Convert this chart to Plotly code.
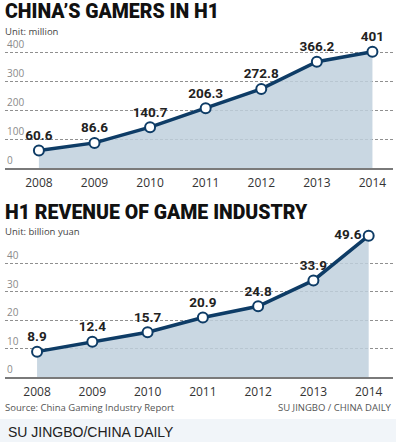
import plotly.graph_objects as go

years = [2008, 2009, 2010, 2011, 2012, 2013, 2014]
gamers = [60.6, 86.6, 140.7, 206.3, 272.8, 366.2, 401]
gamer_labels = ["60.6", "86.6", "140.7", "206.3", "272.8", "366.2", "401"]
revenue = [8.9, 12.4, 15.7, 20.9, 24.8, 33.9, 49.6]
revenue_labels = ["8.9", "12.4", "15.7", "20.9", "24.8", "33.9", "49.6"]
gamer_ticks = [0, 100, 200, 300, 400]
revenue_ticks = [0, 10, 20, 30, 40]

W, H = 396, 442
NAVY = "#0e3c66"
FILL = "rgba(192,208,221,0.85)"
LABEL_FONT = dict(family="Roboto", size=13.5, color="#222222", weight="bold")

def py(px):
    return 1 - px / H

fig = go.Figure()

fig.add_trace(go.Scatter(
    x=years, y=gamers, mode="lines+markers+text",
    text=gamer_labels, textposition="top center", textfont=LABEL_FONT,
    fill="tozeroy", fillcolor=FILL,
    line=dict(color=NAVY, width=3.5),
    marker=dict(size=10, color="white", line=dict(color=NAVY, width=2)),
    xaxis="x", yaxis="y", cliponaxis=False, showlegend=False, hoverinfo="skip"))

fig.add_trace(go.Scatter(
    x=years, y=revenue, mode="lines+markers+text",
    text=revenue_labels,
    textposition=["top center"] * 6 + ["middle left"], textfont=LABEL_FONT,
    fill="tozeroy", fillcolor=FILL,
    line=dict(color=NAVY, width=3.5),
    marker=dict(size=10, color="white", line=dict(color=NAVY, width=2)),
    xaxis="x2", yaxis="y2", cliponaxis=False, showlegend=False, hoverinfo="skip"))

xcommon = dict(
    showgrid=False, zeroline=False, showline=True, linecolor="#7a7a7a", linewidth=2,
    tickmode="array", tickvals=years, ticktext=[str(y) for y in years],
    ticks="", tickfont=dict(family="Open Sans", size=12, color="#333333"),
    ticklabelstandoff=3)
ycommon = dict(
    showgrid=True, gridcolor="#8f8f8f", griddash="3px,2px", gridwidth=1,
    zeroline=False, showline=False, ticks="", showticklabels=False)

fig.update_layout(
    width=W, height=H, margin=dict(l=0, r=0, t=0, b=0),
    paper_bgcolor="white", plot_bgcolor="rgba(0,0,0,0)",
    xaxis=dict(xcommon, domain=[5 / W, 393 / W], range=[2007.39, 2014.37], anchor="y"),
    yaxis=dict(ycommon, domain=[py(168), py(40)], range=[0, 128 / 0.29],
               tickmode="array", tickvals=gamer_ticks, anchor="x"),
    xaxis2=dict(xcommon, domain=[5 / W, 393 / W], range=[2007.42, 2014.44], anchor="y2"),
    yaxis2=dict(ycommon, domain=[py(377), py(225)], range=[0, 152 / 2.85],
                tickmode="array", tickvals=revenue_ticks, anchor="x2"),
)

# y tick labels sitting above their gridlines
for ticks, yref in ((gamer_ticks, "y"), (revenue_ticks, "y2")):
    for t in ticks:
        fig.add_annotation(text=str(t), xref="paper", yref=yref, x=5 / W, y=t,
                           xanchor="left", yanchor="bottom", yshift=-1, showarrow=False,
                           font=dict(family="Open Sans", size=10, color="#8a8a8a"))

fig.add_shape(type="rect", xref="paper", yref="paper", x0=0, x1=1, y0=0, y1=py(419),
              fillcolor="#f1f5f9", line=dict(width=0), layer="below")

def txt(s, x, y, size, color, anchor="left", weight="normal", family="Open Sans"):
    fig.add_annotation(text=s, xref="paper", yref="paper", x=x / W, y=py(y),
                       xanchor=anchor, yanchor="middle", showarrow=False,
                       font=dict(family=family, size=size, color=color, weight=weight))

txt("CHINA’S GAMERS IN H1", 3, 11, 19.5, "#111111", weight=900, family="Roboto")
txt("Unit: million", 3, 32, 9.5, "#444444")
txt("H1 REVENUE OF GAME INDUSTRY", 3, 212.5, 19.5, "#111111", weight=900, family="Roboto")
txt("Unit: billion yuan", 3, 231, 9.5, "#444444")
txt("Source: China Gaming Industry Report", 3, 407, 9.5, "#555555")
txt("SU JINGBO / CHINA DAILY", 394, 407, 9.5, "#555555", anchor="right")
txt("SU JINGBO/CHINA DAILY", 6, 432, 14, "#222222", family="Liberation Sans")

fig.write_html("out.html", config={"displayModeBar": False})

with open("out.html", "r", encoding="utf-8") as f:
    html = f.read()
html = html.replace("<head>", "<head><style>html,body{margin:0;padding:0;overflow:hidden;}</style>", 1)
with open("out.html", "w", encoding="utf-8") as f:
    f.write(html)
